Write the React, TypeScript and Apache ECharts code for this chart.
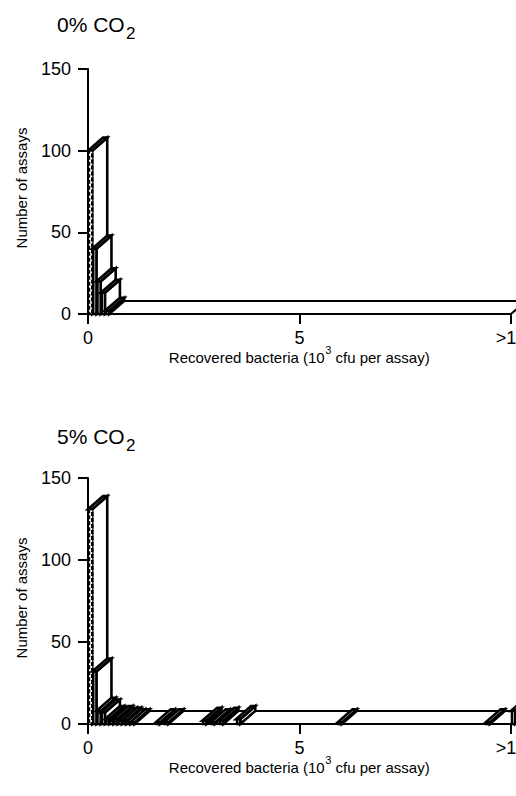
import React, { useEffect, useRef } from 'react';
import * as echarts from 'echarts';

// ---- data (10^3 cfu per assay, bins of 0.1) ----
const BIN_WIDTH = 0.1;
const bins0 = [0, 0.1, 0.2, 0.3, 0.4];
const counts0 = [100, 40, 20, 13, 2];
const bins5 = [0, 0.1, 0.2, 0.3, 0.4, 0.5, 0.6, 0.7, 0.8, 0.9, 1.0, 1.6, 1.8, 2.7, 2.9, 3.1, 3.5, 5.9, 9.4, 10.0];
const counts5 = [131, 32, 8, 7, 3, 2, 3, 2, 2, 1, 1, 1, 1, 2, 1, 2, 3, 1, 1, 8];
const xTickValues = [0, 5, 10];
const xTickLabels = ['0', '5', '>10'];
const yTickValues = [0, 50, 100, 150];
const floorExtent = [0, 10];
const panelTitles = ['0% CO', '5% CO'];
const panelSub = '2';
const yName = 'Number of assays';
const xNameParts = ['Recovered bacteria (10', '3', ' cfu per assay)'];

const FONT = '"Liberation Sans", Arial, Helvetica, sans-serif';
const DX = 15;
const DY = -13;
const AXIS_LW = 2;
const BAR_LW = 2.6;

function barRender(params: any, api: any) {
  const x0 = api.value(0);
  const n = api.value(1);
  const a = api.coord([x0, 0]);
  const b = api.coord([x0 + BIN_WIDTH, n]);
  const xl = a[0], yb = a[1], xr = b[0], yt = b[1];
  const base = params.dataIndex * 3 + 10;
  const st = { fill: '#fff', stroke: '#000', lineWidth: BAR_LW, lineJoin: 'miter' };
  return {
    type: 'group',
    children: [
      { type: 'polygon', z2: base, shape: { points: [[xr, yb], [xr + DX, yb + DY], [xr + DX, yt + DY], [xr, yt]] }, style: st },
      { type: 'polygon', z2: base + 1, shape: { points: [[xl, yt], [xr, yt], [xr + DX, yt + DY], [xl + DX, yt + DY]] }, style: st },
      {
        type: 'rect', z2: base + 2,
        shape: { x: xl + 1, y: yt, width: xr - xl - 1, height: yb - yt },
        style: params.dataIndex === 0 ? { ...st, lineWidth: 2.4, lineDash: [4, 2] } : st,
      },
    ],
  };
}

function floorRender(params: any, api: any) {
  const a = api.coord([api.value(0), 0]);
  const b = api.coord([api.value(1), 0]);
  return {
    type: 'polygon', z2: 1,
    shape: { points: [[a[0], a[1]], [b[0], b[1]], [b[0] + DX, b[1] + DY], [a[0] + DX, a[1] + DY]] },
    style: { fill: '#fff', stroke: '#000', lineWidth: AXIS_LW },
  };
}

function makeAxes(i: number) {
  const xAxis = {
    type: 'value', gridIndex: i, min: 0, max: 10, interval: 5,
    axisLine: { show: true, lineStyle: { color: '#000', width: AXIS_LW } },
    axisTick: { show: true, length: 10, lineStyle: { color: '#000', width: AXIS_LW } },
    axisLabel: {
      color: '#000', fontSize: 18, fontFamily: FONT, margin: 15,
      formatter: (v: number) => xTickLabels[xTickValues.indexOf(v)] ?? '',
    },
    splitLine: { show: false },
  };
  const yAxis = {
    type: 'value', gridIndex: i, min: 0, max: 150, interval: 50,
    axisLine: { show: true, lineStyle: { color: '#000', width: AXIS_LW } },
    axisTick: { show: true, length: 10, lineStyle: { color: '#000', width: AXIS_LW } },
    axisLabel: {
      color: '#000', fontSize: 18, fontFamily: FONT, margin: 17,
      formatter: (v: number) => (yTickValues.includes(v) ? String(v) : ''),
    },
    splitLine: { show: false },
  };
  return { xAxis, yAxis };
}

function measure(text: string, size: number) {
  const c = document.createElement('canvas').getContext('2d');
  if (!c) return text.length * size * 0.5;
  c.font = `${size}px ${FONT}`;
  return c.measureText(text).width;
}

export default function App() {
  const ref = useRef<HTMLDivElement>(null);
  useEffect(() => {
    if (!ref.current) return;
    const chart = echarts.init(ref.current, null, { renderer: 'svg' });
    const a0 = makeAxes(0);
    const a1 = makeAxes(1);
    const panelOffsets = [0, 410];
    const MAIN = 15, SUP = 11;
    const w0 = measure(xNameParts[0], MAIN);
    const w1 = measure(xNameParts[1], SUP);
    const w2 = measure(xNameParts[2], MAIN);
    const startX = 299 - (w0 + w1 + w2) / 2;
    const graphics: any[] = [];
    panelOffsets.forEach((off, i) => {
      const tOff = off + (i === 1 ? 2 : 0);
      graphics.push({
        type: 'text', x: 57, y: 24.5 + tOff,
        style: { text: panelTitles[i], fill: '#000', fontSize: 21, fontFamily: FONT, align: 'left', verticalAlign: 'middle' },
      });
      graphics.push({
        type: 'text', x: 126, y: 33 + tOff,
        style: { text: panelSub, fill: '#000', fontSize: 17, fontFamily: FONT, align: 'left', verticalAlign: 'middle' },
      });
      graphics.push({
        type: 'text', x: 21, y: 188 + off, rotation: Math.PI / 2,
        style: { text: yName, fill: '#000', fontSize: 15, fontFamily: FONT, align: 'center', verticalAlign: 'middle' },
      });
      const ny = 357 + off;
      graphics.push({
        type: 'text', x: startX, y: ny,
        style: { text: xNameParts[0], fill: '#000', fontSize: MAIN, fontFamily: FONT, align: 'left', verticalAlign: 'middle' },
      });
      graphics.push({
        type: 'text', x: startX + w0 + 0.5, y: ny - 7,
        style: { text: xNameParts[1], fill: '#000', fontSize: SUP, fontFamily: FONT, align: 'left', verticalAlign: 'middle' },
      });
      graphics.push({
        type: 'text', x: startX + w0 + w1 + 0.5, y: ny,
        style: { text: xNameParts[2], fill: '#000', fontSize: MAIN, fontFamily: FONT, align: 'left', verticalAlign: 'middle' },
      });
    });

    chart.setOption({
      animation: false,
      backgroundColor: '#fff',
      grid: [
        { left: 88, right: 5, top: 69, height: 245, outerBoundsMode: 'none', containLabel: false },
        { left: 88, right: 5, top: 478, height: 246, outerBoundsMode: 'none', containLabel: false },
      ],
      xAxis: [a0.xAxis, a1.xAxis],
      yAxis: [a0.yAxis, a1.yAxis],
      graphic: graphics,
      series: [
        { type: 'custom', xAxisIndex: 0, yAxisIndex: 0, renderItem: floorRender, data: [floorExtent], z: 2 },
        { type: 'custom', xAxisIndex: 0, yAxisIndex: 0, renderItem: barRender, data: bins0.map((b, i) => [b, counts0[i]]), z: 3 },
        { type: 'custom', xAxisIndex: 1, yAxisIndex: 1, renderItem: floorRender, data: [floorExtent], z: 2 },
        { type: 'custom', xAxisIndex: 1, yAxisIndex: 1, renderItem: barRender, data: bins5.map((b, i) => [b, counts5[i]]), z: 3 },
      ],
    });
    return () => chart.dispose();
  }, []);
  return <div ref={ref} style={{ position: 'absolute', left: 0, top: 0, width: 516, height: 796 }} />;
}
